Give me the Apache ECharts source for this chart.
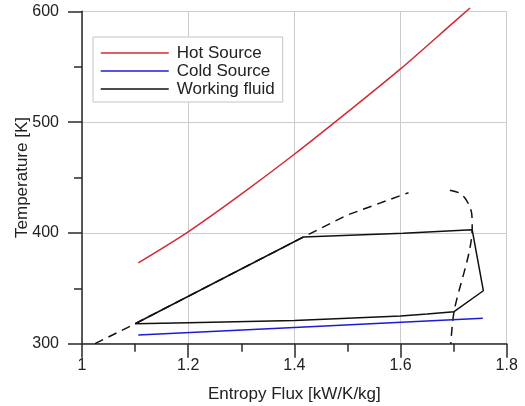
<!DOCTYPE html>
<html>
<head>
<meta charset="utf-8">
<script src="https://cdn.jsdelivr.net/npm/echarts@6/dist/echarts.min.js"></script>
<style>
html,body{margin:0;padding:0;background:#fff;}
#chart{width:525px;height:406px;}
</style>
</head>
<body>
<div id="chart"></div>
<script>
// Axis ticks
var xTicks = [1, 1.2, 1.4, 1.6, 1.8];
var yTicks = [300, 400, 500, 600];

// Hot source
var hotS = [1.106, 1.2, 1.3, 1.4, 1.5, 1.6, 1.7, 1.731];
var hotT = [373, 401, 435, 471, 509, 548, 590, 603];

// Cold source
var coldS = [1.106, 1.4, 1.755];
var coldT = [307.8, 314.6, 322.9];

// Working fluid cycle
var wfS = [1.1, 1.417, 1.605, 1.735, 1.756, 1.7008, 1.65, 1.6, 1.4, 1.2, 1.1];
var wfT = [318, 396.3, 399.6, 402.8, 347.8, 328.9, 326.8, 325, 320.9, 319, 318];

// Saturation dome (dashed), left branch and right branch
var domeLS = [1.0245, 1.1, 1.417, 1.499, 1.615];
var domeLT = [300, 318, 396.3, 416, 436.3];
var domeRS = [1.693, 1.71, 1.7216, 1.73, 1.734, 1.735, 1.7008, 1.6946];
var domeRT = [438.5, 436.2, 431.2, 424, 417.7, 405, 328.9, 300];

function pairs(xs, ys) { return xs.map(function (x, i) { return [x, ys[i]]; }); }

var chart = echarts.init(document.getElementById('chart'), null, {renderer: 'canvas'});
var font = 'Liberation Sans, Arial, sans-serif';
var axisColor = '#2a2a2a';
var gridColor = '#cccccc';

chart.setOption({
  backgroundColor: '#ffffff',
  animation: false,
  textStyle: {fontFamily: font},
  grid: {left: 82, right: 18.3, top: 11.3, bottom: 62.3, containLabel: false, outerBoundsMode: 'none'},
  xAxis: {
    type: 'value', min: xTicks[0], max: xTicks[xTicks.length - 1], interval: 0.2,
    name: 'Entropy Flux [kW/K/kg]', nameLocation: 'middle', nameGap: 42, nameMoveOverlap: false,
    nameTextStyle: {fontSize: 17, color: '#222', fontFamily: font},
    axisLine: {show: true, onZero: false, lineStyle: {color: axisColor, width: 1.5}},
    axisTick: {show: true, length: 14, lineStyle: {color: axisColor, width: 1.5}},
    minorTick: {show: true, splitNumber: 2, length: 8, lineStyle: {color: axisColor, width: 1.5}},
    axisLabel: {fontSize: 16, color: '#222', margin: 14, fontFamily: font,
      formatter: function (v) { return String(+v.toFixed(1)); }},
    splitLine: {show: true, lineStyle: {color: gridColor, width: 1}}
  },
  yAxis: {
    type: 'value', min: yTicks[0], max: yTicks[yTicks.length - 1], interval: 100,
    name: 'Temperature [K]', nameLocation: 'middle', nameGap: 51, nameMoveOverlap: false,
    nameTextStyle: {fontSize: 17, color: '#222', fontFamily: font},
    axisLine: {show: true, onZero: false, lineStyle: {color: axisColor, width: 1.5}},
    axisTick: {show: true, length: 14, lineStyle: {color: axisColor, width: 1.5}},
    minorTick: {show: true, splitNumber: 2, length: 8, lineStyle: {color: axisColor, width: 1.5}},
    axisLabel: {fontSize: 16, color: '#222', margin: 23, fontFamily: font},
    splitLine: {show: true, lineStyle: {color: gridColor, width: 1}}
  },
  legend: {
    show: true, orient: 'vertical', left: 93, top: 37,
    data: ['Hot Source', 'Cold Source', 'Working fluid'],
    itemWidth: 68, itemHeight: 18, itemGap: 0,
    padding: [7, 8, 4, 7],
    borderColor: '#c4c4c4', borderWidth: 1, backgroundColor: '#ffffff',
    itemStyle: {opacity: 0},
    lineStyle: {width: 1.5},
    textStyle: {fontSize: 17, color: '#222', fontFamily: font, lineHeight: 18, padding: [0, 0, 0, 3]}
  },
  series: [
    {name: 'dome-left', type: 'line', data: pairs(domeLS, domeLT), symbol: 'none',
      lineStyle: {color: '#111', width: 1.5, type: [9, 6]}, z: 1},
    {name: 'dome-right', type: 'line', data: pairs(domeRS, domeRT), symbol: 'none', smooth: 0.3,
      lineStyle: {color: '#111', width: 1.5, type: [9, 6]}, z: 1},
    {name: 'Hot Source', type: 'line', data: pairs(hotS, hotT), symbol: 'none', smooth: 0.3, clip: false,
      lineStyle: {color: '#d42a32', width: 1.5}, itemStyle: {color: '#d42a32'}, z: 3},
    {name: 'Cold Source', type: 'line', data: pairs(coldS, coldT), symbol: 'none',
      lineStyle: {color: '#1c1cd8', width: 1.5}, itemStyle: {color: '#1c1cd8'}, z: 3},
    {name: 'Working fluid', type: 'line', data: pairs(wfS, wfT), symbol: 'none',
      lineStyle: {color: '#111', width: 1.5}, itemStyle: {color: '#111'}, z: 4}
  ]
});
</script>
</body>
</html>
